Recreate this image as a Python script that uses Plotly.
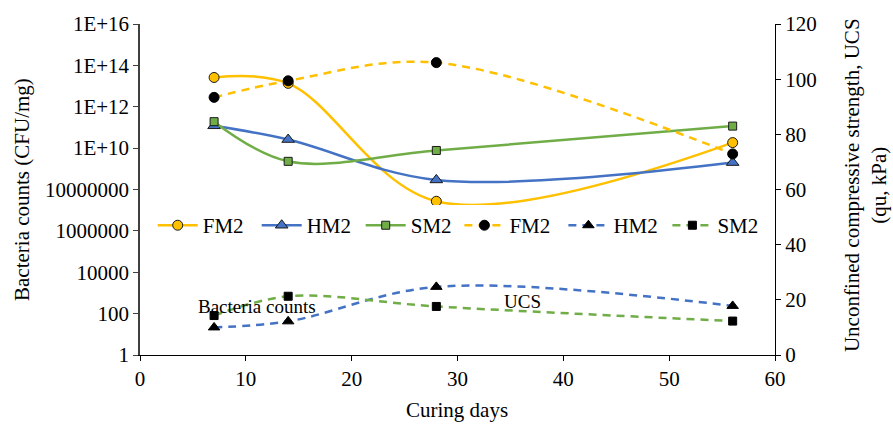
import plotly.graph_objects as go

days = [7, 14, 28, 56]

# Bacteria counts (CFU/mg), left log axis
bact_fm2 = [2.6e13, 1.35e13, 2.7e7, 1.85e10]
bact_hm2 = [1.2e11, 2.6e10, 2.9e8, 2.0e9]
bact_sm2 = [1.9e11, 2.3e9, 7.7e9, 1.16e11]

# UCS (kPa), right axis
ucs_fm2 = [93.4, 99.4, 106.0, 72.9]
ucs_hm2 = [10.0, 12.2, 24.7, 17.8]
ucs_sm2 = [14.3, 21.3, 17.6, 12.3]

left_tickvals = [1, 1e2, 1e4, 1e6, 1e8, 1e10, 1e12, 1e14, 1e16]
left_ticktext = ["1", "100", "10000", "1000000", "10000000", "1E+10", "1E+12", "1E+14", "1E+16"]

GOLD = "#FFC000"
BLUE = "#4472C4"
GREEN = "#70AD47"
FONT = "Liberation Serif"
FS = 21

fig = go.Figure()

solid = [
    ("FM2", bact_fm2, GOLD, "circle", 10),
    ("HM2", bact_hm2, BLUE, "triangle-up", 11),
    ("SM2", bact_sm2, GREEN, "square", 8),
]
for name, ys, col, sym, sz in solid:
    fig.add_trace(go.Scatter(
        x=days, y=ys, name=name, mode="lines+markers",
        line=dict(color=col, width=2.5, shape="spline", smoothing=1),
        marker=dict(symbol=sym, size=sz, color=col, line=dict(color="#1a1a1a", width=1)),
        yaxis="y", legend="legend"))

dashed = [
    ("FM2", ucs_fm2, GOLD, "circle", 10),
    ("HM2", ucs_hm2, BLUE, "triangle-up", 10),
    ("SM2", ucs_sm2, GREEN, "square", 8),
]
for name, ys, col, sym, sz in dashed:
    fig.add_trace(go.Scatter(
        x=days, y=ys, name=name, mode="lines+markers",
        line=dict(color=col, width=2.5, shape="spline", smoothing=1, dash="8px,6px"),
        marker=dict(symbol=sym, size=sz, color="black", line=dict(color="black", width=1)),
        yaxis="y2", legend="legend2"))

leg_common = dict(orientation="h", yanchor="middle", xanchor="left", y=0.391,
                  bgcolor="white", font=dict(family=FONT, size=FS, color="black"),
                  entrywidth=49, entrywidthmode="pixels", itemwidth=40,
                  borderwidth=0, tracegroupgap=0)

fig.update_layout(
    width=893, height=427,
    margin=dict(l=140, r=118, t=20, b=72),
    paper_bgcolor="white", plot_bgcolor="white",
    font=dict(family=FONT, size=FS, color="black"),
    showlegend=True,
    legend=dict(x=0.02, **leg_common),
    legend2=dict(x=0.503, **leg_common),
    xaxis=dict(range=[0, 60], dtick=10, tick0=0, showgrid=False, zeroline=False,
               showline=True, linecolor="black", linewidth=1.2,
               ticks="outside", ticklen=5, tickcolor="black",
               tickfont=dict(family=FONT, size=FS)),
    yaxis=dict(type="log", range=[0, 16], tickvals=left_tickvals, ticktext=left_ticktext,
               showgrid=False, zeroline=False, showline=True, linecolor="#404040", linewidth=1.5,
               ticks="outside", ticklen=5, tickcolor="#404040",
               tickfont=dict(family=FONT, size=FS)),
    yaxis2=dict(range=[0, 120], dtick=20, tick0=0, overlaying="y", side="right",
                showgrid=False, zeroline=False, showline=True, linecolor="black", linewidth=1.2,
                ticks="outside", ticklen=5, tickcolor="black",
                tickfont=dict(family=FONT, size=FS)),
)

fig.add_annotation(text="Curing days", xref="paper", yref="paper",
                   x=(457 - 140) / 635, y=(355 - 411) / 335, showarrow=False,
                   font=dict(family=FONT, size=FS), xanchor="center", yanchor="middle")
fig.add_annotation(text="Bacteria counts (CFU/mg)", xref="paper", yref="paper",
                   x=(22 - 140) / 635, y=(355 - 188) / 335, showarrow=False, textangle=-90,
                   font=dict(family=FONT, size=FS), xanchor="center", yanchor="middle")
fig.add_annotation(text="Unconfined compressive strength, UCS<br>(qu, kPa)", xref="paper", yref="paper",
                   x=(865 - 140) / 635, y=(355 - 183) / 335, showarrow=False, textangle=-90,
                   font=dict(family=FONT, size=FS), xanchor="center", yanchor="middle")
fig.add_annotation(text="Bacteria counts", xref="paper", yref="paper",
                   x=(257 - 140) / 635, y=(355 - 306) / 335, showarrow=False,
                   font=dict(family=FONT, size=19), xanchor="center", yanchor="middle")
fig.add_annotation(text="UCS", xref="paper", yref="paper",
                   x=(522 - 140) / 635, y=(355 - 301) / 335, showarrow=False,
                   font=dict(family=FONT, size=19), xanchor="center", yanchor="middle")

fig.write_html("out.html")
